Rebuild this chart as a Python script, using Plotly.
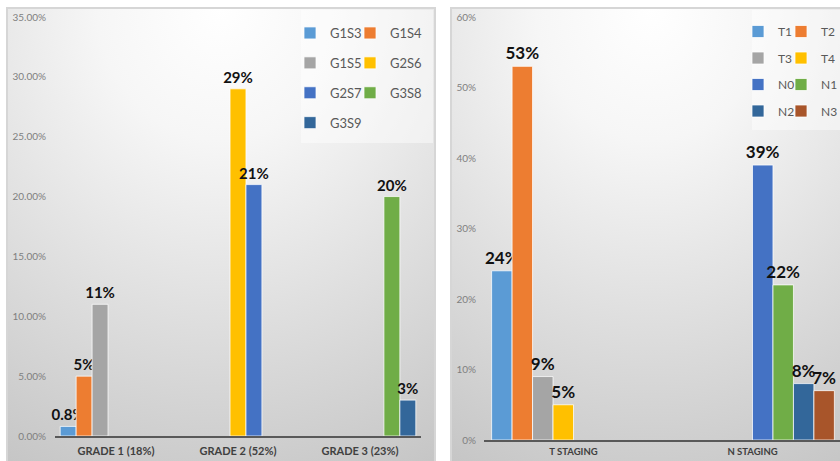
import base64
import plotly.graph_objects as go

# ---------------- data ----------------
grade_categories = ["GRADE 1 (18%)", "GRADE 2 (52%)", "GRADE 3 (23%)"]
grade_series = ["G1S3", "G1S4", "G1S5", "G2S6", "G2S7", "G3S8", "G3S9"]
grade_values = [
    [0.008, None, None],
    [0.05, None, None],
    [0.11, None, None],
    [None, 0.29, None],
    [None, 0.21, None],
    [None, None, 0.20],
    [None, None, 0.03],
]
grade_ticks = [0, 0.05, 0.10, 0.15, 0.20, 0.25, 0.30, 0.35]

stage_categories = ["T STAGING", "N STAGING"]
stage_series = ["T1", "T2", "T3", "T4", "N0", "N1", "N2", "N3"]
stage_values = [
    [0.24, None],
    [0.53, None],
    [0.09, None],
    [0.05, None],
    [None, 0.39],
    [None, 0.22],
    [None, 0.08],
    [None, 0.07],
]
stage_ticks = [0, 0.1, 0.2, 0.3, 0.4, 0.5, 0.6]

grade_colors = ["#5B9BD5", "#ED7D31", "#A5A5A5", "#FFC000", "#4472C4", "#70AD47", "#33679A"]
stage_colors = ["#5B9BD5", "#ED7D31", "#A5A5A5", "#FFC000", "#4472C4", "#70AD47", "#33679A", "#A8552A"]

W, H = 840, 461
FONT = "Lato, 'Open Sans', sans-serif"


def fmt(v):
    if v is None:
        return ""
    return f"{round(v * 100, 1):g}%"


fig = go.Figure()

# left legend columns: legend (col 1), legend2 (col 2); right: legend3, legend4
for i, (name, vals, col) in enumerate(zip(grade_series, grade_values, grade_colors)):
    fig.add_trace(go.Bar(
        name=name, x=grade_categories, y=vals, xaxis="x", yaxis="y",
        marker=dict(color=col, line=dict(color="rgba(255,255,255,0.75)", width=1)),
        text=[fmt(v) for v in vals], textposition="outside", constraintext="none",
        cliponaxis=False,
        textfont=dict(family=FONT, size=15, color="#111111", weight="bold"),
        legend="legend" if i % 2 == 0 else "legend2", legendgroup=name,
        hoverinfo="name+y",
    ))

for i, (name, vals, col) in enumerate(zip(stage_series, stage_values, stage_colors)):
    fig.add_trace(go.Bar(
        name=name, x=stage_categories, y=vals, xaxis="x2", yaxis="y2",
        marker=dict(color=col, line=dict(color="rgba(255,255,255,0.75)", width=1)),
        text=[fmt(v) for v in vals], textposition="outside", constraintext="none",
        cliponaxis=False,
        textfont=dict(family=FONT, size=17, color="#111111", weight="bold"),
        legend="legend3" if i % 2 == 0 else "legend4", legendgroup=name,
        hoverinfo="name+y",
    ))


def px_x(p):
    return p / W


def px_y(p):
    return 1 - p / H


def gradient_svg(w, h):
    svg = (
        f'<svg xmlns="http://www.w3.org/2000/svg" width="{w}" height="{h}" '
        f'viewBox="0 0 {w} {h}" preserveAspectRatio="none">'
        '<defs><radialGradient id="g" cx="50%" cy="0%" fx="50%" fy="0%" r="115%">'
        '<stop offset="0" stop-color="#ffffff"/>'
        '<stop offset="0.25" stop-color="#f6f6f6"/>'
        '<stop offset="0.6" stop-color="#dedede"/>'
        '<stop offset="1" stop-color="#c3c3c3"/>'
        '</radialGradient></defs>'
        f'<rect width="{w}" height="{h}" fill="url(#g)"/></svg>'
    )
    return "data:image/svg+xml;base64," + base64.b64encode(svg.encode()).decode()


images = [
    dict(source=gradient_svg(428, 460), xref="paper", yref="paper",
         x=px_x(7), y=px_y(8), sizex=px_x(428), sizey=460 / H,
         xanchor="left", yanchor="top", sizing="stretch", layer="below"),
    dict(source=gradient_svg(400, 460), xref="paper", yref="paper",
         x=px_x(451), y=px_y(8), sizex=px_x(400), sizey=460 / H,
         xanchor="left", yanchor="top", sizing="stretch", layer="below"),
]

shapes = [
    # legend panels
    dict(type="rect", xref="paper", yref="paper", x0=px_x(301), x1=px_x(433),
         y0=px_y(143), y1=px_y(10), fillcolor="rgba(255,255,255,0.45)", line=dict(width=0),
         layer="below"),
    dict(type="rect", xref="paper", yref="paper", x0=px_x(752), x1=px_x(842),
         y0=px_y(130), y1=px_y(10), fillcolor="rgba(255,255,255,0.45)", line=dict(width=0),
         layer="below"),
    # chart frames
    dict(type="rect", xref="paper", yref="paper", x0=px_x(7), x1=px_x(435),
         y0=px_y(470), y1=px_y(8), line=dict(color="#d6d6d6", width=2), layer="below"),
    dict(type="rect", xref="paper", yref="paper", x0=px_x(451), x1=px_x(850),
         y0=px_y(470), y1=px_y(8), line=dict(color="#d6d6d6", width=2), layer="below"),
]

legend_common = dict(
    orientation="v", xref="paper", yref="paper", xanchor="left", yanchor="top",
    bgcolor="rgba(0,0,0,0)", borderwidth=0, traceorder="grouped",
)

cat_w_right = (840 - 484) / 179.0

fig.update_layout(
    width=W, height=H,
    margin=dict(l=0, r=0, t=0, b=0, autoexpand=False),
    paper_bgcolor="white", plot_bgcolor="rgba(0,0,0,0)",
    barmode="group", bargap=0.085, bargroupgap=0,
    images=images, shapes=shapes,
    xaxis=dict(domain=[px_x(55), px_x(421)], showgrid=False, zeroline=False,
               showline=True, linecolor="#595959", linewidth=1.5, ticks="",
               tickfont=dict(family=FONT, size=11, color="#404040", weight="bold"),
               ticklabelstandoff=4, fixedrange=True),
    yaxis=dict(domain=[px_y(436), px_y(17)], range=[0, 0.35], tickvals=grade_ticks,
               tickformat=".2%", showgrid=False, zeroline=False, showline=False, ticks="",
               tickfont=dict(family=FONT, size=10, color="#7f7f7f"),
               ticklabelstandoff=8, fixedrange=True),
    xaxis2=dict(domain=[px_x(484), 1.0], range=[-0.5, -0.5 + cat_w_right], anchor="y2",
                showgrid=False, zeroline=False, showline=True, linecolor="#595959",
                linewidth=1.5, ticks="",
                tickfont=dict(family=FONT, size=9.5, color="#404040", weight="bold"),
                ticklabelstandoff=2, fixedrange=True),
    yaxis2=dict(domain=[px_y(440), px_y(17)], range=[0, 0.6], tickvals=stage_ticks,
                anchor="x2", tickformat=".0%", showgrid=False, zeroline=False, showline=False,
                ticks="", tickfont=dict(family=FONT, size=10, color="#7f7f7f"),
                ticklabelstandoff=7, fixedrange=True),
    legend=dict(legend_common, x=px_x(290), y=px_y(18), tracegroupgap=10,
                font=dict(family=FONT, size=13, color="#595959")),
    legend2=dict(legend_common, x=px_x(350), y=px_y(18), tracegroupgap=10,
                 font=dict(family=FONT, size=13, color="#595959")),
    legend3=dict(legend_common, x=px_x(738), y=px_y(17), tracegroupgap=7.5,
                 font=dict(family=FONT, size=12, color="#595959")),
    legend4=dict(legend_common, x=px_x(781), y=px_y(17), tracegroupgap=7.5,
                 font=dict(family=FONT, size=12, color="#595959")),
    showlegend=True,
    hovermode="closest",
)

fig.write_html(
    "out.html",
    config={"displayModeBar": False},
    post_script="document.body.style.margin='0';document.body.style.overflow='hidden';",
)
